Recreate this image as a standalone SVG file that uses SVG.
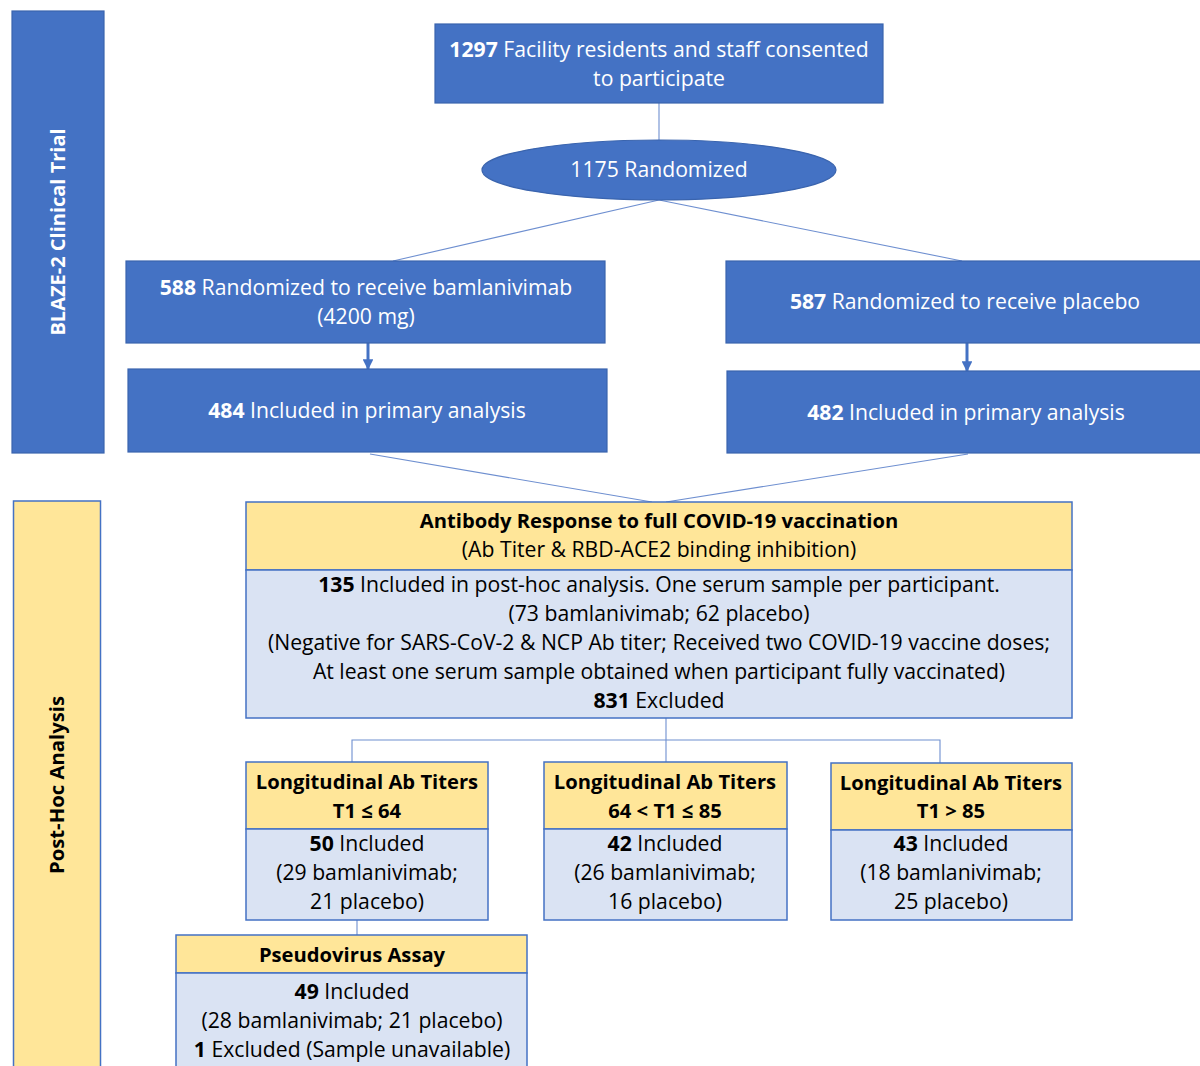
<svg xmlns="http://www.w3.org/2000/svg" width="1200" height="1066" viewBox="0 0 1200 1066">
<defs>
<style>
text{font-family:"Open Sans","Noto Sans",sans-serif;font-size:21.2px;text-anchor:middle}
.w{fill:#ffffff}
.k{fill:#000000}
.b{font-weight:bold}
.h{font-size:20.2px}
.blue{fill:#4472C4;stroke:#3A64AE;stroke-width:1.2}
.yel{fill:#FFE699;stroke:#4472C4;stroke-width:1.5}
.lb{fill:#DAE3F3;stroke:#4472C4;stroke-width:1.5}
.con{stroke:#6E8FD0;stroke-width:1.1;fill:none}
.arr{stroke:#4472C4;stroke-width:3;fill:none}
</style>
<marker id="ah" viewBox="0 0 10 10" refX="9" refY="5" markerWidth="3.6" markerHeight="3.6" orient="auto" markerUnits="strokeWidth">
<path d="M0,0 L10,5 L0,10 z" fill="#4472C4"/>
</marker>
</defs>
<rect width="1200" height="1066" fill="#ffffff"/>

<g id="connectors">
<line class="con" x1="659" y1="103" x2="659" y2="140"/>
<line class="con" x1="659" y1="200" x2="393" y2="261"/>
<line class="con" x1="659" y1="200" x2="962" y2="261"/>
<line class="arr" x1="368" y1="343" x2="368" y2="369" marker-end="url(#ah)"/>
<line class="arr" x1="967" y1="343" x2="967" y2="371" marker-end="url(#ah)"/>
<line class="con" x1="370" y1="454" x2="652" y2="502"/>
<line class="con" x1="968" y1="454" x2="666" y2="502"/>
<line class="con" x1="666" y1="718" x2="666" y2="762"/>
<polyline class="con" points="352,762 352,740 940,740 940,763"/>
<line class="con" x1="357" y1="920" x2="357" y2="935"/>
</g>

<g id="label-blaze">
<rect class="blue" x="12" y="11" width="92" height="442"/>
<text class="w b" transform="translate(65,232) rotate(-90)" style="font-size:20px">BLAZE-2 Clinical Trial</text>
</g>

<g id="label-posthoc">
<rect x="13.5" y="501" width="87" height="580" fill="#FFE699" stroke="#4472C4" stroke-width="1.5"/>
<text class="k b" transform="translate(64,785) rotate(-90)" style="font-size:20.3px">Post-Hoc Analysis</text>
</g>

<g id="node-consented">
<rect class="blue" x="435" y="24" width="448" height="79"/>
<text class="w" x="659" y="57"><tspan class="b">1297</tspan> Facility residents and staff consented</text>
<text class="w" x="659" y="86">to participate</text>
</g>

<g id="node-randomized">
<ellipse class="blue" cx="659" cy="170" rx="177" ry="30"/>
<text class="w" x="659" y="177">1175 Randomized</text>
</g>

<g id="node-bam">
<rect class="blue" x="126" y="261" width="479" height="82"/>
<text class="w" x="366" y="295"><tspan class="b">588</tspan> Randomized to receive bamlanivimab</text>
<text class="w" x="366" y="324">(4200 mg)</text>
</g>

<g id="node-placebo">
<rect class="blue" x="726" y="261" width="480" height="82"/>
<text class="w" x="965" y="309"><tspan class="b">587</tspan> Randomized to receive placebo</text>
</g>

<g id="node-484">
<rect class="blue" x="128" y="369" width="479" height="83"/>
<text class="w" x="367" y="418"><tspan class="b">484</tspan> Included in primary analysis</text>
</g>

<g id="node-482">
<rect class="blue" x="727" y="371" width="479" height="82"/>
<text class="w" x="966" y="420"><tspan class="b">482</tspan> Included in primary analysis</text>
</g>

<g id="node-antibody">
<rect class="yel" x="246" y="502" width="826" height="68"/>
<rect class="lb" x="246" y="570" width="826" height="148"/>
<text class="k b h" x="659" y="528">Antibody Response to full COVID-19 vaccination</text>
<text class="k" x="659" y="557">(Ab Titer &amp; RBD-ACE2 binding inhibition)</text>
<text class="k" x="659" y="592"><tspan class="b">135</tspan> Included in post-hoc analysis. One serum sample per participant.</text>
<text class="k" x="659" y="621">(73 bamlanivimab; 62 placebo)</text>
<text class="k" x="659" y="650">(Negative for SARS-CoV-2 &amp; NCP Ab titer; Received two COVID-19 vaccine doses;</text>
<text class="k" x="659" y="679">At least one serum sample obtained when participant fully vaccinated)</text>
<text class="k" x="659" y="708"><tspan class="b">831</tspan> Excluded</text>
</g>

<g id="node-t1-low">
<rect class="yel" x="246" y="762" width="242" height="67"/>
<rect class="lb" x="246" y="829" width="242" height="91"/>
<text class="k b h" x="367" y="789">Longitudinal Ab Titers</text>
<text class="k b h" x="367" y="818">T1 ≤ 64</text>
<text class="k" x="367" y="851"><tspan class="b">50</tspan> Included</text>
<text class="k" x="367" y="880">(29 bamlanivimab;</text>
<text class="k" x="367" y="909">21 placebo)</text>
</g>

<g id="node-t1-mid">
<rect class="yel" x="544" y="762" width="243" height="67"/>
<rect class="lb" x="544" y="829" width="243" height="91"/>
<text class="k b h" x="665" y="789">Longitudinal Ab Titers</text>
<text class="k b h" x="665" y="818">64 &lt; T1 ≤ 85</text>
<text class="k" x="665" y="851"><tspan class="b">42</tspan> Included</text>
<text class="k" x="665" y="880">(26 bamlanivimab;</text>
<text class="k" x="665" y="909">16 placebo)</text>
</g>

<g id="node-t1-high">
<rect class="yel" x="831" y="763" width="241" height="67"/>
<rect class="lb" x="831" y="830" width="241" height="90"/>
<text class="k b h" x="951" y="790">Longitudinal Ab Titers</text>
<text class="k b h" x="951" y="818">T1 &gt; 85</text>
<text class="k" x="951" y="851"><tspan class="b">43</tspan> Included</text>
<text class="k" x="951" y="880">(18 bamlanivimab;</text>
<text class="k" x="951" y="909">25 placebo)</text>
</g>

<g id="node-pseudovirus">
<rect class="yel" x="176" y="935" width="351" height="38"/>
<rect class="lb" x="176" y="973" width="351" height="110"/>
<text class="k b h" x="352" y="962">Pseudovirus Assay</text>
<text class="k" x="352" y="999"><tspan class="b">49</tspan> Included</text>
<text class="k" x="352" y="1028">(28 bamlanivimab; 21 placebo)</text>
<text class="k" x="352" y="1057"><tspan class="b">1</tspan> Excluded (Sample unavailable)</text>
</g>
</svg>
